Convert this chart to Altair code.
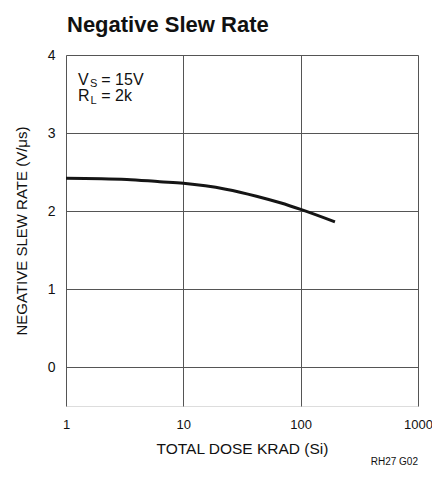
import altair as alt
import pandas as pd

# Curve data
dose = [1, 3.3, 6.3, 10, 23, 42, 67, 100, 196]
rate = [2.42, 2.405, 2.375, 2.355, 2.28, 2.19, 2.105, 2.02, 1.86]

x_ticks = [1, 10, 100, 1000]
y_ticks = [0, 1, 2, 3, 4]

FONT = "Liberation Sans, Arial, Helvetica, sans-serif"

df = pd.DataFrame({"dose": dose, "rate": rate})

xscale = alt.Scale(type="log", domain=[1, 1000], nice=False)
yscale = alt.Scale(domain=[-0.5, 4], nice=False, zero=False)

line = alt.Chart(df).mark_line(color="#151515", strokeWidth=3, interpolate="monotone").encode(
    x=alt.X("dose:Q", scale=xscale,
            axis=alt.Axis(values=x_ticks, format="d", title="TOTAL DOSE KRAD (Si)",
                          grid=True, gridColor="#555", gridWidth=1, domain=False,
                          ticks=False, labelPadding=12, titlePadding=10,
                          labelFontSize=13, titleFontSize=15.5, titleFontWeight="normal",
                          labelFlush=False, labelFont=FONT, titleFont=FONT,
                          labelColor="#111", titleColor="#111")),
    y=alt.Y("rate:Q", scale=yscale,
            axis=alt.Axis(values=y_ticks, format="d", title="NEGATIVE SLEW RATE (V/μs)",
                          grid=True, gridColor="#555", gridWidth=1, domain=False,
                          ticks=False, labelPadding=11, titlePadding=18,
                          labelFontSize=14, titleFontSize=15, titleFontWeight="normal",
                          labelFont=FONT, titleFont=FONT,
                          labelColor="#111", titleColor="#111")),
)

# Annotation: V_S = 15V, R_L = 2k
ann_main = pd.DataFrame({"x": [1.266, 1.266], "y": [3.615, 3.41], "t": ["V", "R"]})
ann_sub = pd.DataFrame({"x": [1.60, 1.62], "y": [3.585, 3.37], "t": ["S", "L"]})
ann_rest = pd.DataFrame({"x": [2.0, 2.0], "y": [3.615, 3.41], "t": ["= 15V", "= 2k"]})

def txt(d, size):
    return alt.Chart(d).mark_text(align="left", baseline="alphabetic", fontSize=size,
                                  font=FONT, color="#111").encode(
        x=alt.X("x:Q", scale=xscale), y=alt.Y("y:Q", scale=yscale), text="t:N")

code = alt.Chart(pd.DataFrame({"t": ["RH27 G02"]})).mark_text(
    align="right", baseline="middle", fontSize=10, font=FONT, color="#111"
).encode(x=alt.value(352), y=alt.value(407), text="t:N")

title = alt.Chart(pd.DataFrame({"t": ["Negative Slew Rate"]})).mark_text(
    align="left", baseline="alphabetic", fontSize=22, fontWeight="bold", font=FONT, color="#111"
).encode(x=alt.value(1), y=alt.value(-23), text="t:N")

chart = alt.layer(line, txt(ann_main, 16), txt(ann_sub, 11), txt(ann_rest, 16), code, title).properties(
    width=352, height=351,
    padding={"left": 58, "top": 47, "right": 14, "bottom": 65},
    autosize=alt.AutoSizeParams(type="none"),
).configure_view(stroke="#111", strokeWidth=2).configure(background="white")

chart.save("out.html", embed_options={"renderer": "svg", "actions": False})
